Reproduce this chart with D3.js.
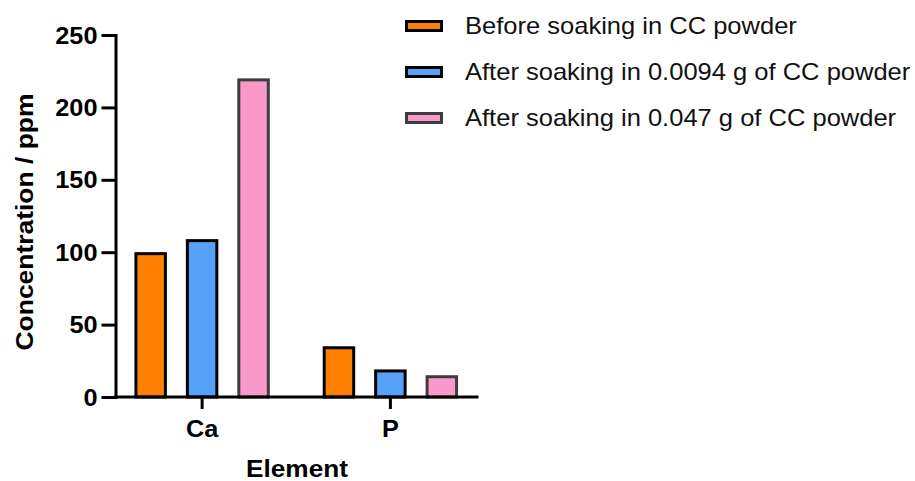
<!DOCTYPE html>
<html>
<head>
<meta charset="utf-8">
<script src="https://cdn.jsdelivr.net/npm/d3@7"></script>
<style>
  html, body { margin: 0; padding: 0; background: #fff; }
  svg { display: block; font-family: "Liberation Sans", Arial, sans-serif; }
</style>
</head>
<body>
<svg id="chart" width="915" height="481"></svg>
<script>
// Elements on the x axis
const elements = ["Ca", "P"];
// Series names shown in the legend
const seriesNames = [
  "Before soaking in CC powder",
  "After soaking in 0.0094 g of CC powder",
  "After soaking in 0.047 g of CC powder"
];
// Concentration (ppm) of each element, one array per series
const beforeSoaking = [99, 34];
const after0094g = [108, 18];
const after047g = [219, 14];
// Y axis ticks
const yTicks = [0, 50, 100, 150, 200, 250];

const seriesValues = [beforeSoaking, after0094g, after047g];
const fills = ["#FF8000", "#58A1F8", "#F899C9"];
const strokes = ["#000000", "#000000", "#3d3d3d"];

const svg = d3.select("#chart");
const stretch = 1.1; // horizontal glyph stretch used for the labels
const fontSize = 23;

const plot = { left: 115.5, right: 477, top: 35, bottom: 397 };

const y = d3.scaleLinear().domain([0, 250]).range([plot.bottom, plot.top]);
const x0 = d3.scaleBand().domain(elements).range([plot.left, plot.right])
  .paddingInner(0.297).paddingOuter(0.1085);
const x1 = d3.scaleBand().domain(d3.range(seriesNames.length))
  .range([0, x0.bandwidth()]).paddingInner(0.427).paddingOuter(0);

// Bars
const groups = svg.append("g").selectAll("g")
  .data(elements)
  .join("g")
  .attr("transform", d => `translate(${x0(d)},0)`);

groups.selectAll("rect")
  .data((d, i) => seriesValues.map((vals, s) => ({ s, v: vals[i] })))
  .join("rect")
  .attr("x", d => x1(d.s))
  .attr("width", x1.bandwidth())
  .attr("y", d => y(d.v))
  .attr("height", d => y(0) - y(d.v))
  .attr("fill", d => fills[d.s])
  .attr("stroke", d => strokes[d.s])
  .attr("stroke-width", 3);

// Y axis
const yAxis = svg.append("g")
  .attr("transform", `translate(${plot.left},0)`)
  .call(d3.axisLeft(y).tickValues(yTicks).tickSize(14).tickSizeOuter(0).tickPadding(5));
yAxis.select(".domain").attr("stroke-width", 3).attr("stroke-linecap", "square");
yAxis.selectAll(".tick line").attr("stroke-width", 3);
yAxis.selectAll(".tick text")
  .attr("font-size", fontSize).attr("font-weight", "bold").attr("fill", "#000")
  .attr("font-family", "Liberation Sans, Arial, sans-serif")
  .attr("dy", null).attr("y", 8)
  .attr("transform", `translate(-18,0) scale(${stretch},1)`)
  .attr("x", 0);

// X axis
const xAxis = svg.append("g")
  .attr("transform", `translate(0,${plot.bottom})`)
  .call(d3.axisBottom(x0).tickSize(12).tickSizeOuter(0).tickPadding(12));
xAxis.select(".domain").attr("stroke-width", 3).attr("stroke-linecap", "square")
  .attr("d", `M${plot.left},0H${plot.right}`);
xAxis.selectAll(".tick line").attr("stroke-width", 3);
xAxis.selectAll(".tick text")
  .attr("font-size", fontSize).attr("font-weight", "bold").attr("fill", "#000")
  .attr("font-family", "Liberation Sans, Arial, sans-serif")
  .attr("dy", null).attr("y", 0)
  .attr("transform", `translate(0,40) scale(${stretch},1)`);

// Axis titles
svg.append("text")
  .attr("transform", `translate(297,477) scale(1.14,1)`)
  .attr("text-anchor", "middle")
  .attr("font-size", fontSize).attr("font-weight", "bold")
  .text("Element");

svg.append("text")
  .attr("transform", `translate(33,222) rotate(-90) scale(1.15,1)`)
  .attr("text-anchor", "middle")
  .attr("font-size", 23).attr("font-weight", "bold")
  .text("Concentration / ppm");

// Legend
const legend = svg.append("g").selectAll("g")
  .data(seriesNames)
  .join("g")
  .attr("transform", (d, i) => `translate(0,${26 + i * 46})`);

legend.append("rect")
  .attr("x", 406.5).attr("y", -4.5)
  .attr("width", 35).attr("height", 9)
  .attr("fill", (d, i) => fills[i])
  .attr("stroke", (d, i) => strokes[i])
  .attr("stroke-width", 3);

legend.append("text")
  .attr("transform", `translate(465,8) scale(1.11,1)`)
  .attr("font-size", fontSize)
  .attr("fill", "#111")
  .text(d => d);
</script>
</body>
</html>
